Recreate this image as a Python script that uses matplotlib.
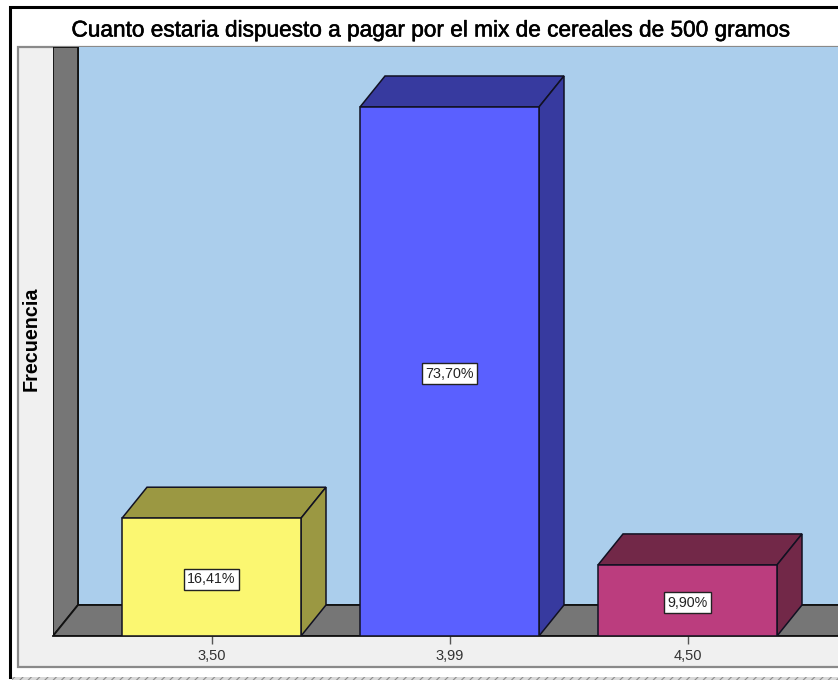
import numpy as np
from matplotlib import pyplot as plt
from matplotlib import patheffects as pe
from matplotlib.patches import Polygon, Rectangle

#--- donnees -----------------
categorias = ['3,50', '3,99', '4,50']
porcentajes = [16.41, 73.70, 9.90]
etiquetas = ['16,41%', '73,70%', '9,90%']
titulo = 'Cuanto estaria dispuesto a pagar por el mix de cereales de 500 gramos'
eje_y = 'Frecuencia'

col_frente = ['#fbf771', '#5a60ff', '#bb3d7e']
col_sombra = ['#9b9842', '#373a9f', '#722848']

W, H = 838, 680
fig = plt.figure(figsize=(W / 100, H / 100), dpi=100, facecolor='white')
plt.rcParams['font.family'] = ['Liberation Sans', 'DejaVu Sans']


def px(x, y):
    return x / W, 1 - y / H


#--- cadre et panneau, en pixels ---
fond = fig.add_axes([0, 0, 1, 1], zorder=0)
fond.set_xlim(0, W)
fond.set_ylim(H, 0)
fond.axis('off')
fond.plot([10, 10, W], [677, 7, 7], color='black', lw=2.2, solid_joinstyle='miter')
fond.add_patch(Rectangle((18, 47), 830, 620, fc='#f0f0f0', ec='#8a8a8a', lw=1.6))
plt.rcParams['hatch.linewidth'] = 0.8
plt.rcParams['hatch.color'] = '#8c8c8c'
fond.add_patch(Rectangle((12, 677), 830, 6, fc='#d9d9d9', lw=0, hatch='////'))

#--- axe principal ---
x0, x1, y_base, y_haut = 53, 838, 636, 47
ech_x = 238
ech_y = 529 / 73.70
x_cat0 = 211.5
ax = fig.add_axes([x0 / W, 1 - y_base / H, (x1 - x0) / W, (y_base - y_haut) / H], zorder=1)
ax.set_xlim((x0 - x_cat0) / ech_x, (x1 - x_cat0) / ech_x)
ax.set_ylim(0, (y_base - y_haut) / ech_y)
ax.patch.set_visible(False)

dx = 25 / ech_x    # profondeur 3D
dy = 31 / ech_y
larg = 179 / ech_x
xg, xd = ax.get_xlim()
yh = ax.get_ylim()[1]

#--- mur, fond et sol ---
ax.add_patch(Rectangle((xg + dx, dy), xd - xg, yh, fc='#abceec', ec='#222222', lw=1.3, clip_on=True))
ax.add_patch(Polygon([(xg, 0), (xg + dx, dy), (xg + dx, yh), (xg, yh)], fc='#767676', ec='#111111', lw=1.3))
ax.add_patch(Polygon([(xg, 0), (xd, 0), (xd + dx, dy), (xg + dx, dy)], fc='#767676', ec='#111111', lw=1.3))

#--- barres ---
for i, v in enumerate(porcentajes):
    g, d = i - larg / 2, i + larg / 2
    ax.add_patch(Polygon([(g, v), (d, v), (d + dx, v + dy), (g + dx, v + dy)],
                         fc=col_sombra[i], ec='#111122', lw=1.1, zorder=3))
    ax.add_patch(Polygon([(d, 0), (d + dx, dy), (d + dx, v + dy), (d, v)],
                         fc=col_sombra[i], ec='#111122', lw=1.1, zorder=3))
    ax.bar(i, v, width=larg, color=col_frente[i], edgecolor='#111122', linewidth=1.1, zorder=4)
    ax.annotate(etiquetas[i], (i, v / 2), xytext=(0, -1.5), textcoords='offset points',
                ha='center', va='center', fontsize=10.3, color='#222222', zorder=5,
                bbox=dict(boxstyle='square,pad=0.25', fc='white', ec='#222222', lw=1))

ax.set_xticks(range(len(categorias)))
ax.set_xticklabels(categorias, fontsize=10.5, color='#333333')
ax.tick_params(axis='x', length=6, width=1, color='#555555', pad=3)
ax.set_yticks([])
for s in ['top', 'right', 'left']:
    ax.spines[s].set_visible(False)
ax.spines['bottom'].set_color('#111111')
ax.spines['bottom'].set_linewidth(1.3)

t = fig.text(*px(431, 30), titulo, ha='center', va='center', fontsize=16.3, color='black',
             fontweight='normal')
t.set_path_effects([pe.withStroke(linewidth=0.4, foreground='black')])
fig.text(*px(31, 339), eje_y, ha='center', va='center', rotation=90, fontsize=14.2,
         fontweight='bold', color='black')

fig.savefig('out.png', dpi=100)
